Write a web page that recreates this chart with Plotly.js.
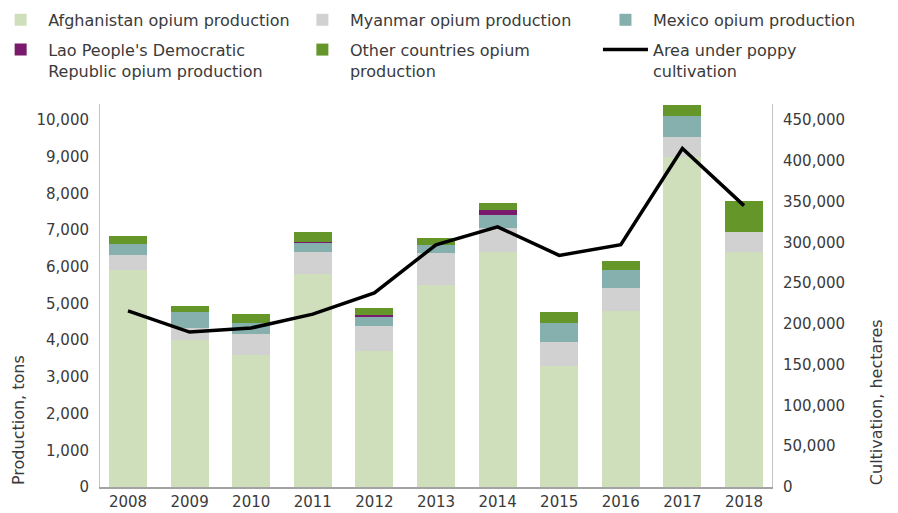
<!DOCTYPE html>
<html>
<head>
<meta charset="utf-8">
<script src="https://cdn.plot.ly/plotly-3.0.1.min.js"></script>
<style>
  html, body { margin: 0; padding: 0; background: #ffffff; }
  #opiumChart { width: 898px; height: 513px; }
</style>
</head>
<body>
<div id="opiumChart"></div>
<script>
// ============================================================================
// OPIUM PRODUCTION & POPPY CULTIVATION - CHART RENDERER
// ============================================================================

const years = ['2008', '2009', '2010', '2011', '2012', '2013', '2014', '2015', '2016', '2017', '2018'];

// Production, tons
const afghanistan = [5900, 4000, 3600, 5800, 3700, 5500, 6400, 3300, 4800, 9000, 6400];
const myanmar     = [410, 330, 580, 610, 690, 870, 670, 650, 620, 550, 550];
const mexico      = [325, 425, 300, 250, 250, 225, 355, 520, 490, 570, 0];
const lao         = [0, 0, 0, 25, 41, 0, 110, 0, 0, 0, 0];
const others      = [215, 185, 240, 270, 190, 200, 190, 300, 245, 300, 840];

// Area under poppy cultivation, hectares
const cultivation = [216000, 190000, 195000, 212000, 238000, 297000, 319000, 284000, 297000, 415000, 345000];

class ChartRenderer {
    constructor() {
        this.font = { family: 'DejaVu Sans, sans-serif', color: '#3a3a3a' };
        this.colors = {
            afghanistan: '#d0dfbb',
            myanmar: '#d1d1d1',
            mexico: '#86b0ad',
            lao: '#7a1a6c',
            others: '#64962a',
            line: '#000000'
        };
    }

    barTrace(name, values, color, legend) {
        return {
            x: years,
            y: values,
            name: name,
            type: 'bar',
            legend: legend,
            legendgroup: name,
            marker: { color: color, line: { width: 0 } }
        };
    }

    // one vertical legend per column, so the three columns sit where the reference puts them
    legendColumn(x) {
        return {
            orientation: 'v',
            x: x,
            xanchor: 'left',
            y: 1.264,
            yanchor: 'top',
            traceorder: 'grouped',
            tracegroupgap: 6,
            itemwidth: 45,
            valign: 'top',
            font: { ...this.font, size: 16 },
            bgcolor: 'rgba(0,0,0,0)'
        };
    }

    render(containerId) {
        // stacking order bottom to top: Afghanistan, Myanmar, Mexico, Lao, Others
        const plotData = [
            this.barTrace('Afghanistan opium production', afghanistan, this.colors.afghanistan, 'legend'),
            this.barTrace('Myanmar opium production', myanmar, this.colors.myanmar, 'legend2'),
            this.barTrace('Mexico opium production', mexico, this.colors.mexico, 'legend3'),
            this.barTrace('Lao People\'s Democratic<br>Republic opium production', lao, this.colors.lao, 'legend'),
            this.barTrace('Other countries opium<br>production', others, this.colors.others, 'legend2'),
            {
                x: years,
                y: cultivation,
                name: 'Area under poppy<br>cultivation',
                type: 'scatter',
                mode: 'lines',
                yaxis: 'y2',
                legend: 'legend3',
                legendgroup: 'area',
                line: { color: this.colors.line, width: 3.5 }
            }
        ];

        const leftMax = 10436;
        const axisCommon = {
            showgrid: false,
            zeroline: false,
            showline: true,
            ticks: '',
            tickfont: { ...this.font, size: 15 },
            fixedrange: true
        };

        const layout = {
            font: { ...this.font, size: 15 },
            paper_bgcolor: '#ffffff',
            plot_bgcolor: '#ffffff',
            margin: { t: 104, r: 126, b: 26, l: 100, autoexpand: false },
            barmode: 'stack',
            bargap: 0.383,
            showlegend: true,
            legend: this.legendColumn(-0.159),
            legend2: this.legendColumn(0.290),
            legend3: this.legendColumn(0.741),
            xaxis: {
                ...axisCommon,
                type: 'category',
                range: [-0.4545, 10.4545],
                linecolor: '#a3a3a3',
                linewidth: 2
            },
            yaxis: {
                ...axisCommon,
                range: [0, leftMax],
                tickvals: [0, 1000, 2000, 3000, 4000, 5000, 6000, 7000, 8000, 9000, 10000],
                tickformat: ',d',
                linecolor: '#c4c4c4',
                linewidth: 1,
                ticklabelstandoff: 7
            },
            yaxis2: {
                ...axisCommon,
                overlaying: 'y',
                side: 'right',
                range: [0, leftMax * 45],
                tickvals: [0, 50000, 100000, 150000, 200000, 250000, 300000, 350000, 400000, 450000],
                tickformat: ',d',
                linecolor: '#c4c4c4',
                linewidth: 1,
                ticklabelstandoff: 7
            },
            annotations: [
                {
                    text: 'Production, tons',
                    xref: 'paper', yref: 'paper',
                    x: -0.122, y: 0,
                    xanchor: 'center', yanchor: 'bottom',
                    textangle: -90,
                    showarrow: false,
                    font: { ...this.font, size: 16 }
                },
                {
                    text: 'Cultivation, hectares',
                    xref: 'paper', yref: 'paper',
                    x: 1.155, y: 0,
                    xanchor: 'center', yanchor: 'bottom',
                    textangle: -90,
                    showarrow: false,
                    font: { ...this.font, size: 16 }
                }
            ]
        };

        Plotly.newPlot(containerId, plotData, layout, { displayModeBar: false, responsive: false });
    }
}

const chartRenderer = new ChartRenderer();
chartRenderer.render('opiumChart');
</script>
</body>
</html>
